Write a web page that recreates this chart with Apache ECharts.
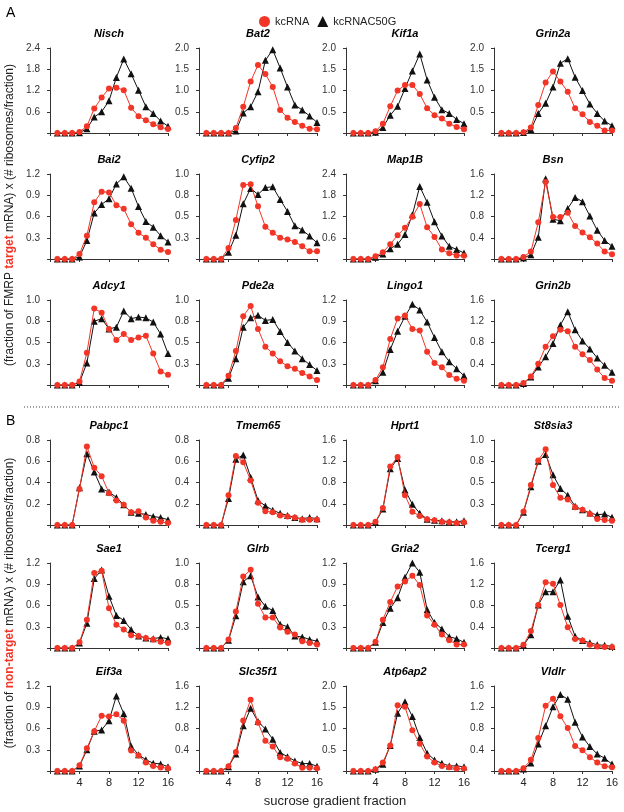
<!DOCTYPE html>
<html>
<head>
<meta charset="utf-8">
<script src="https://cdn.jsdelivr.net/npm/echarts@6/dist/echarts.min.js"></script>
<style>
  html, body { margin: 0; padding: 0; background: #fff; }
  #chart { width: 624px; height: 812px; }
</style>
</head>
<body>
<div id="chart"></div>
<script>
// sucrose gradient fractions
const fractions = [1, 2, 3, 4, 5, 6, 7, 8, 9, 10, 11, 12, 13, 14, 15, 16];

const genes = ['Nisch', 'Bat2', 'Kif1a', 'Grin2a',
  'Bai2', 'Cyfip2', 'Map1B', 'Bsn',
  'Adcy1', 'Pde2a', 'Lingo1', 'Grin2b',
  'Pabpc1', 'Tmem65', 'Hprt1', 'St8sia3',
  'Sae1', 'Glrb', 'Gria2', 'Tcerg1',
  'Eif3a', 'Slc35f1', 'Atp6ap2', 'Vldlr'];

const yMax = [2.4, 2.0, 2.0, 2.0,
  1.2, 1.0, 2.4, 1.6,
  1.0, 1.0, 1.2, 1.6,
  0.8, 0.8, 1.6, 1.0,
  1.2, 1.0, 1.2, 1.6,
  1.2, 1.6, 2.0, 1.6];

// A: FMRP targets
const nisch_kc = [0, 0, 0, 0.03, 0.19, 0.69, 1.0, 1.26, 1.28, 1.21, 0.71, 0.47, 0.36, 0.25, 0.16, 0.11];
const nisch_c50g = [0, 0, 0, 0.01, 0.12, 0.45, 0.6, 0.91, 1.57, 2.09, 1.67, 1.21, 0.74, 0.55, 0.34, 0.19];
const bat2_kc = [0, 0, 0, 0, 0.12, 0.62, 1.21, 1.6, 1.39, 1.08, 0.54, 0.36, 0.26, 0.17, 0.1, 0.09];
const bat2_c50g = [0, 0, 0, 0, 0.05, 0.47, 0.62, 0.97, 1.71, 1.96, 1.53, 1.08, 0.66, 0.54, 0.4, 0.25];
const kif1a_kc = [0, 0, 0, 0.04, 0.22, 0.63, 1.0, 1.13, 1.13, 0.92, 0.58, 0.42, 0.34, 0.22, 0.14, 0.09];
const kif1a_c50g = [0, 0, 0, 0.02, 0.13, 0.42, 0.63, 1.05, 1.46, 1.86, 1.25, 0.84, 0.55, 0.46, 0.32, 0.22];
const grin2a_kc = [0, 0, 0, 0.02, 0.13, 0.66, 1.19, 1.45, 1.21, 0.97, 0.58, 0.44, 0.26, 0.17, 0.06, 0.06];
const grin2a_c50g = [0, 0, 0, 0.01, 0.08, 0.46, 0.7, 1.08, 1.64, 1.75, 1.31, 1.0, 0.68, 0.46, 0.28, 0.17];

const bai2_kc = [0, 0, 0, 0.07, 0.33, 0.8, 0.95, 0.94, 0.76, 0.71, 0.49, 0.37, 0.3, 0.21, 0.13, 0.1];
const bai2_c50g = [0, 0, 0, 0.03, 0.26, 0.65, 0.77, 0.85, 1.06, 1.16, 1.0, 0.74, 0.53, 0.45, 0.33, 0.24];
const cyfip2_kc = [0, 0, 0, 0.13, 0.46, 0.87, 0.88, 0.62, 0.38, 0.31, 0.25, 0.23, 0.2, 0.15, 0.09, 0.09];
const cyfip2_c50g = [0, 0, 0, 0.08, 0.28, 0.65, 0.83, 0.76, 0.84, 0.85, 0.7, 0.56, 0.39, 0.34, 0.27, 0.19];
const map1b_kc = [0, 0, 0, 0.08, 0.19, 0.42, 0.67, 0.88, 1.19, 1.55, 0.9, 0.62, 0.27, 0.16, 0.1, 0.09];
const map1b_c50g = [0, 0, 0, 0.05, 0.14, 0.29, 0.42, 0.69, 1.25, 2.05, 1.6, 1.05, 0.65, 0.36, 0.27, 0.17];
const bsn_kc = [0, 0, 0, 0.04, 0.14, 0.69, 1.45, 0.79, 0.79, 0.87, 0.62, 0.5, 0.41, 0.29, 0.14, 0.09];
const bsn_c50g = [0, 0, 0, 0.02, 0.08, 0.41, 1.51, 0.75, 0.72, 0.95, 1.16, 1.08, 0.81, 0.54, 0.35, 0.24];

const adcy1_kc = [0, 0, 0, 0.04, 0.38, 0.9, 0.85, 0.66, 0.53, 0.6, 0.53, 0.56, 0.58, 0.37, 0.16, 0.12];
const adcy1_c50g = [0, 0, 0, 0.03, 0.26, 0.75, 0.78, 0.66, 0.68, 0.87, 0.78, 0.8, 0.79, 0.74, 0.6, 0.37];
const pde2a_kc = [0, 0, 0, 0.11, 0.4, 0.81, 0.93, 0.66, 0.45, 0.37, 0.28, 0.22, 0.19, 0.14, 0.1, 0.06];
const pde2a_c50g = [0, 0, 0, 0.08, 0.31, 0.68, 0.79, 0.82, 0.76, 0.77, 0.63, 0.5, 0.4, 0.31, 0.24, 0.17];
const lingo1_kc = [0, 0, 0, 0.07, 0.25, 0.65, 0.94, 0.98, 0.79, 0.77, 0.47, 0.31, 0.25, 0.14, 0.09, 0.06];
const lingo1_c50g = [0, 0, 0, 0.06, 0.18, 0.5, 0.76, 0.97, 1.14, 1.06, 0.89, 0.67, 0.47, 0.33, 0.23, 0.13];
const grin2b_kc = [0, 0, 0, 0.04, 0.16, 0.4, 0.72, 0.92, 1.04, 1.01, 0.72, 0.58, 0.47, 0.29, 0.13, 0.08];
const grin2b_c50g = [0, 0, 0, 0.03, 0.15, 0.34, 0.53, 0.78, 1.13, 1.38, 1.04, 0.83, 0.68, 0.51, 0.37, 0.24];

// B: non-targets
const pabpc1_kc = [0, 0, 0, 0.34, 0.74, 0.54, 0.46, 0.3, 0.23, 0.19, 0.12, 0.13, 0.07, 0.04, 0.03, 0.02];
const pabpc1_c50g = [0, 0, 0, 0.35, 0.67, 0.5, 0.34, 0.31, 0.26, 0.19, 0.12, 0.11, 0.1, 0.08, 0.07, 0.05];
const tmem65_kc = [0, 0, 0, 0.28, 0.65, 0.59, 0.42, 0.21, 0.13, 0.12, 0.09, 0.08, 0.07, 0.05, 0.05, 0.05];
const tmem65_c50g = [0, 0, 0, 0.25, 0.62, 0.66, 0.45, 0.23, 0.18, 0.14, 0.11, 0.09, 0.07, 0.06, 0.07, 0.06];
const hprt1_kc = [0, 0, 0, 0.06, 0.32, 1.1, 1.28, 0.56, 0.25, 0.17, 0.11, 0.09, 0.06, 0.05, 0.04, 0.05];
const hprt1_c50g = [0, 0, 0, 0.05, 0.3, 1.06, 1.25, 0.66, 0.39, 0.22, 0.11, 0.09, 0.08, 0.06, 0.06, 0.08];
const st8sia3_kc = [0, 0, 0, 0.16, 0.47, 0.76, 0.89, 0.47, 0.32, 0.3, 0.21, 0.18, 0.13, 0.07, 0.06, 0.05];
const st8sia3_c50g = [0, 0, 0, 0.15, 0.45, 0.75, 0.83, 0.59, 0.43, 0.35, 0.22, 0.18, 0.14, 0.12, 0.13, 0.09];

const sae1_kc = [0, 0, 0, 0.08, 0.4, 1.06, 1.09, 0.56, 0.33, 0.26, 0.18, 0.17, 0.14, 0.12, 0.09, 0.07];
const sae1_c50g = [0, 0, 0, 0.07, 0.35, 0.98, 1.1, 0.73, 0.46, 0.39, 0.26, 0.17, 0.14, 0.13, 0.15, 0.13];
const glrb_kc = [0, 0, 0, 0.1, 0.43, 0.84, 0.92, 0.52, 0.36, 0.36, 0.24, 0.19, 0.16, 0.08, 0.06, 0.04];
const glrb_c50g = [0, 0, 0, 0.09, 0.38, 0.78, 0.85, 0.6, 0.49, 0.44, 0.28, 0.25, 0.14, 0.13, 0.1, 0.08];
const gria2_kc = [0, 0, 0, 0.09, 0.4, 0.65, 0.87, 0.94, 1.02, 0.89, 0.46, 0.33, 0.19, 0.11, 0.05, 0.05];
const gria2_c50g = [0, 0, 0, 0.08, 0.36, 0.56, 0.71, 1.0, 1.2, 1.07, 0.54, 0.36, 0.27, 0.16, 0.13, 0.08];
const tcerg1_kc = [0, 0, 0, 0.06, 0.32, 0.81, 1.24, 1.21, 0.81, 0.39, 0.17, 0.14, 0.06, 0.03, 0.02, 0.02];
const tcerg1_c50g = [0, 0, 0, 0.05, 0.25, 0.81, 1.06, 1.06, 1.28, 0.6, 0.22, 0.14, 0.1, 0.06, 0.05, 0.03];

const eif3a_kc = [0, 0, 0, 0.08, 0.32, 0.56, 0.78, 0.77, 0.8, 0.71, 0.29, 0.22, 0.12, 0.07, 0.05, 0.04];
const eif3a_c50g = [0, 0, 0, 0.07, 0.3, 0.56, 0.58, 0.71, 1.06, 0.81, 0.35, 0.23, 0.16, 0.11, 0.1, 0.06];
const slc35f1_kc = [0, 0, 0, 0.09, 0.36, 0.95, 1.34, 0.91, 0.57, 0.46, 0.26, 0.23, 0.14, 0.06, 0.06, 0.05];
const slc35f1_c50g = [0, 0, 0, 0.08, 0.32, 0.85, 1.18, 0.93, 0.79, 0.6, 0.35, 0.27, 0.19, 0.14, 0.14, 0.09];
const atp6ap2_kc = [0, 0, 0, 0.04, 0.2, 0.6, 1.55, 1.51, 0.96, 0.64, 0.34, 0.2, 0.12, 0.09, 0.06, 0.06];
const atp6ap2_c50g = [0, 0, 0, 0.04, 0.16, 0.6, 1.36, 1.63, 1.28, 0.79, 0.42, 0.26, 0.18, 0.12, 0.12, 0.1];
const vldlr_kc = [0, 0, 0, 0.05, 0.21, 0.62, 1.23, 1.36, 1.03, 0.81, 0.47, 0.39, 0.26, 0.16, 0.09, 0.07];
const vldlr_c50g = [0, 0, 0, 0.04, 0.15, 0.51, 0.85, 1.21, 1.44, 1.35, 0.92, 0.64, 0.46, 0.32, 0.24, 0.13];

const kcRNA = [nisch_kc, bat2_kc, kif1a_kc, grin2a_kc, bai2_kc, cyfip2_kc, map1b_kc, bsn_kc,
  adcy1_kc, pde2a_kc, lingo1_kc, grin2b_kc, pabpc1_kc, tmem65_kc, hprt1_kc, st8sia3_kc,
  sae1_kc, glrb_kc, gria2_kc, tcerg1_kc, eif3a_kc, slc35f1_kc, atp6ap2_kc, vldlr_kc];
const kcRNAC50G = [nisch_c50g, bat2_c50g, kif1a_c50g, grin2a_c50g, bai2_c50g, cyfip2_c50g, map1b_c50g, bsn_c50g,
  adcy1_c50g, pde2a_c50g, lingo1_c50g, grin2b_c50g, pabpc1_c50g, tmem65_c50g, hprt1_c50g, st8sia3_c50g,
  sae1_c50g, glrb_c50g, gria2_c50g, tcerg1_c50g, eif3a_c50g, slc35f1_c50g, atp6ap2_c50g, vldlr_c50g];

const xTicks = [4, 8, 12, 16];

// layout (px)
const colLeft = [50, 199, 346, 494];
const rowTop = [48, 174, 300, 440, 563, 686];
const plotW = 118;
const plotH = 85;

const RED = '#f23526';
const BLACK = '#111';
const FONT = '"Liberation Sans", Arial, Helvetica, sans-serif';

const chart = echarts.init(document.getElementById('chart'));

const grids = [], xAxes = [], yAxes = [], series = [], graphics = [];

genes.forEach((g, i) => {
  const r = Math.floor(i / 4), c = i % 4;
  grids.push({ left: colLeft[c], top: rowTop[r], width: plotW, height: plotH });
  xAxes.push({
    gridIndex: i, type: 'value', min: 0, max: 16, interval: 4,
    axisLine: { lineStyle: { color: '#333', width: 1 } },
    axisTick: { show: true, length: 3, lineStyle: { color: '#333' } },
    axisLabel: {
      show: r === 5, margin: 6, fontSize: 11, color: '#222', fontFamily: FONT,
      formatter: v => (xTicks.includes(v) ? String(v) : '')
    },
    splitLine: { show: false }
  });
  yAxes.push({
    gridIndex: i, type: 'value', min: 0, max: yMax[i], interval: yMax[i] / 4,
    axisLine: { show: true, lineStyle: { color: '#333', width: 1 } },
    axisTick: { show: true, length: 3, lineStyle: { color: '#333' } },
    axisLabel: {
      margin: 10, fontSize: 10, color: '#333', fontFamily: FONT,
      formatter: v => (v === 0 ? '' : v.toFixed(1))
    },
    splitLine: { show: false }
  });
  series.push({
    name: 'kcRNAC50G', type: 'line', xAxisIndex: i, yAxisIndex: i,
    data: fractions.map((f, k) => [f, kcRNAC50G[i][k]]),
    symbol: 'triangle', symbolSize: 7,
    itemStyle: { color: BLACK }, lineStyle: { color: BLACK, width: 1 },
    animation: false, z: 2
  });
  series.push({
    name: 'kcRNA', type: 'line', xAxisIndex: i, yAxisIndex: i,
    data: fractions.map((f, k) => [f, kcRNA[i][k]]),
    symbol: 'circle', symbolSize: 6,
    itemStyle: { color: RED }, lineStyle: { color: RED, width: 1 },
    animation: false, z: 3
  });
  graphics.push({
    type: 'text', x: colLeft[c] + plotW / 2, y: rowTop[r] - 14,
    style: {
      text: g, font: 'italic bold 11px ' + FONT, fill: '#000',
      align: 'center', verticalAlign: 'middle'
    }
  });
});

// panel letters, separator, axis titles
graphics.push(
  { type: 'text', x: 6, y: 13, style: { text: 'A', font: '14px ' + FONT, fill: '#000', verticalAlign: 'middle' } },
  { type: 'text', x: 6, y: 421, style: { text: 'B', font: '14px ' + FONT, fill: '#000', verticalAlign: 'middle' } },
  { type: 'line', shape: { x1: 24, y1: 407, x2: 620, y2: 407 }, style: { stroke: '#444', lineWidth: 1, lineDash: [1, 2] } },
  {
    type: 'text', x: 10, y: 215, rotation: Math.PI / 2,
    style: {
      text: '(fraction of FMRP {r|target} mRNA) x (# ribosomes/fraction)',
      font: '12px ' + FONT, fill: '#222', align: 'center', verticalAlign: 'middle',
      rich: { r: { fill: RED, fontWeight: 'bold', fontSize: 12, fontFamily: FONT } }
    }
  },
  {
    type: 'text', x: 10, y: 603, rotation: Math.PI / 2,
    style: {
      text: '(fraction of {r|non-target} mRNA) x (# ribosomes/fraction)',
      font: '12px ' + FONT, fill: '#222', align: 'center', verticalAlign: 'middle',
      rich: { r: { fill: RED, fontWeight: 'bold', fontSize: 12, fontFamily: FONT } }
    }
  },
  {
    type: 'text', x: 335, y: 801,
    style: { text: 'sucrose gradient fraction', font: '13px ' + FONT, fill: '#222', align: 'center', verticalAlign: 'middle' }
  }
);

chart.setOption({
  backgroundColor: '#fff',
  animation: false,
  legend: {
    left: 254, top: 11, itemWidth: 11, itemHeight: 11, itemGap: 8,
    textStyle: { fontSize: 11, color: '#222', fontFamily: FONT },
    data: [
      { name: 'kcRNA', icon: 'circle', itemStyle: { color: RED } },
      { name: 'kcRNAC50G', icon: 'triangle', itemStyle: { color: BLACK } }
    ]
  },
  grid: grids,
  xAxis: xAxes,
  yAxis: yAxes,
  series: series,
  graphic: graphics
});
</script>
</body>
</html>
